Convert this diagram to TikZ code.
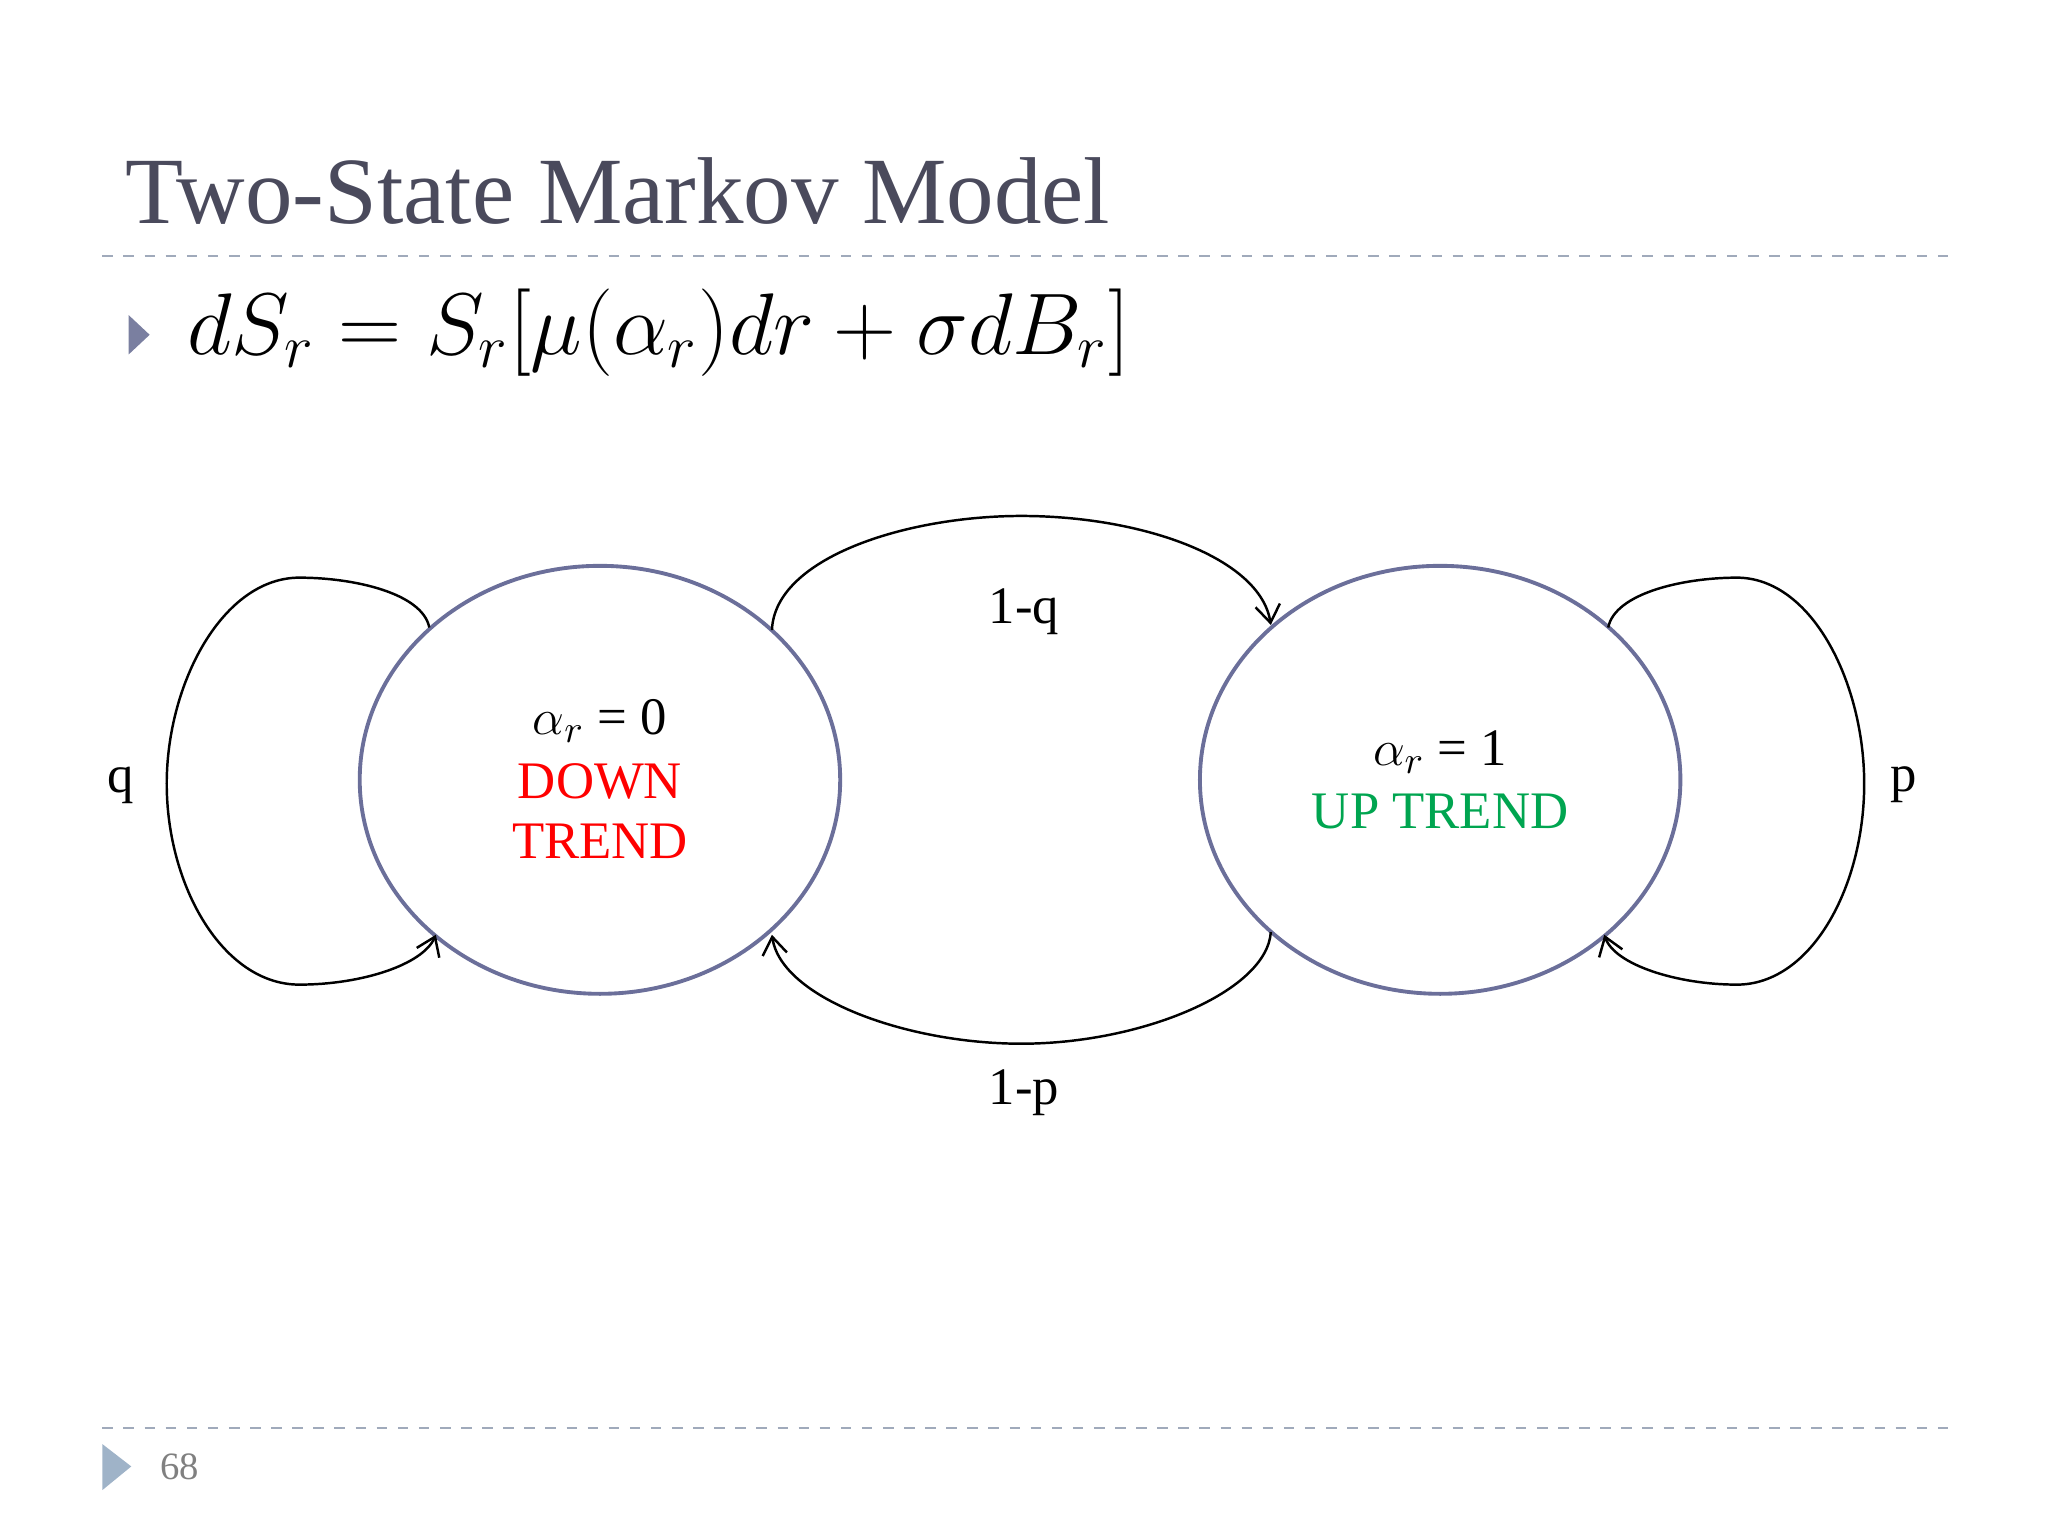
\documentclass[tikz,border=0pt]{standalone}
\usepackage{fontspec}
\setmainfont{Liberation Serif}
\usetikzlibrary{shapes.geometric,arrows.meta}
\definecolor{ttl}{HTML}{4A4A5C}
\definecolor{ell}{HTML}{6B6F9A}
\definecolor{dsh}{HTML}{A0AABB}
\definecolor{tri}{HTML}{7A7FA0}
\definecolor{tri2}{HTML}{9FB3C8}
\definecolor{grn}{HTML}{00A550}
\begin{document}
\begin{tikzpicture}[x=0.013128cm,y=-0.013128cm,
  conn/.style={draw=black,line width=0.7pt,-{Straight Barb[length=5pt,width=7pt]}},
  lbl/.style={font=\fontsize{15}{17.5}\selectfont,inner sep=1pt}]
\useasboundingbox (0,0) rectangle (1560,1170);
\node[anchor=base west,text=ttl,font=\fontsize{27}{32}\selectfont,inner sep=0pt] (title) at (95,170) {Two-State Markov Model};
\draw[dsh,dashed,line width=0.6pt] (78,195) -- (1490,195);
\fill[tri] (98,240) -- (114,255) -- (98,270) -- cycle;
\node[anchor=base west,font=\fontsize{23}{27}\selectfont,inner sep=0pt] (eq) at (142,270) {$dS_r = S_r[\mu(\alpha_r)dr+\sigma dB_r]$};
\draw[ell,line width=1.1pt] (457,594) ellipse [x radius=183, y radius=163];
\draw[ell,line width=1.1pt] (1097,594) ellipse [x radius=183, y radius=163];
\node[lbl] (a0) at (457,549) {$\alpha_r$ = 0};
\node[lbl,text=red] (down) at (457,595) {DOWN};
\node[lbl,text=red] (trend) at (457,641) {TREND};
\node[lbl] (a1) at (1097,573) {$\alpha_r$ = 1};
\node[lbl,text=grn] (up) at (1097,618) {UP TREND};
\draw[conn] (327,478) .. controls (322,452) and (270,440) .. (228,440) .. controls (170,440) and (127,520) .. (127,597) .. controls (127,675) and (170,750) .. (228,750) .. controls (275,750) and (322,735) .. (332,712);
\draw[conn] (1225,478) .. controls (1230,452) and (1282,440) .. (1323,440) .. controls (1380,440) and (1420,520) .. (1420,597) .. controls (1420,675) and (1380,750) .. (1323,750) .. controls (1278,750) and (1230,735) .. (1222,712);
\draw[conn] (588,480) .. controls (590,425) and (690,393) .. (778,393) .. controls (870,393) and (960,425) .. (968,476);
\draw[conn] (968,710) .. controls (965,755) and (870,795) .. (778,795) .. controls (690,795) and (595,760) .. (588,712);
\node[lbl] (lq) at (780,466) {1-q};
\node[lbl] (lp) at (780,832) {1-p};
\node[lbl] (q) at (92,598) {q};
\node[lbl] (p) at (1450,598) {p};
\draw[dsh,dashed,line width=0.6pt] (78,1088) -- (1490,1088);
\fill[tri2] (78,1100) -- (100,1117) -- (78,1135) -- cycle;
\node[text=gray,font=\fontsize{11}{13}\selectfont] (pg) at (137,1117) {68};
\end{tikzpicture}
\end{document}
